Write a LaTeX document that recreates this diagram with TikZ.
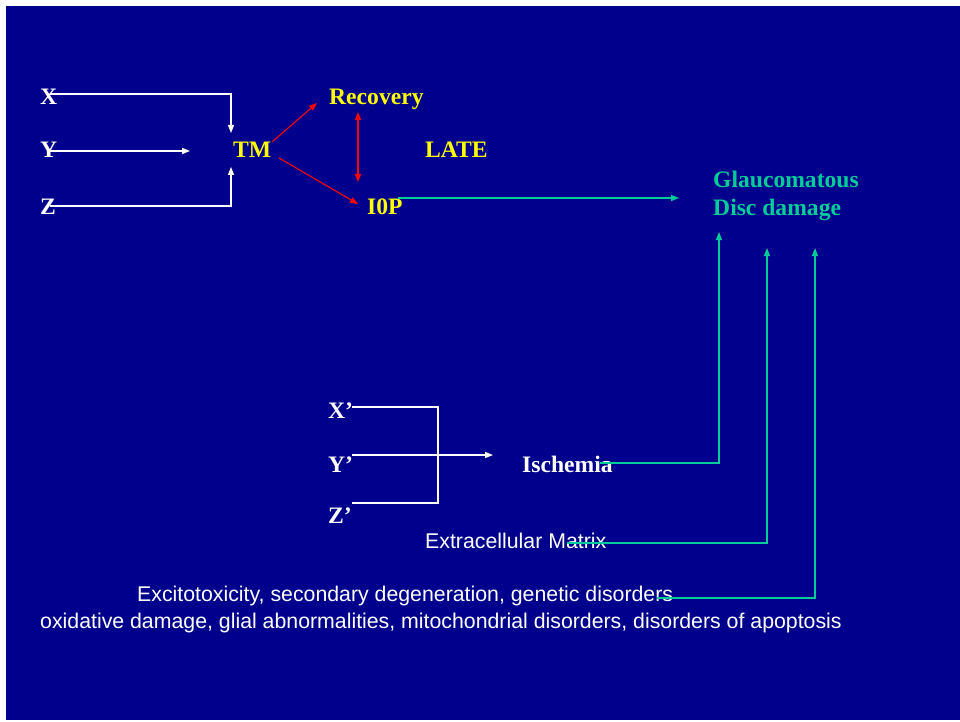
\documentclass[tikz,border=0pt]{standalone}
\usepackage{fontspec}
\setmainfont{Liberation Serif}
\newfontfamily\arialf{Liberation Sans}
\usetikzlibrary{arrows.meta}
\definecolor{bg}{RGB}{0,0,140}
\definecolor{tealc}{RGB}{0,204,153}
\definecolor{yel}{RGB}{255,255,0}
\begin{document}
\begin{tikzpicture}[x=1pt,y=-1pt,
  lbl/.style={inner sep=0pt, anchor=base west, font=\fontsize{23.6}{24}\selectfont\bfseries},
  sans/.style={inner sep=0pt, anchor=base west, font=\arialf\fontsize{21.3}{21.3}\selectfont, text=white},
  wl/.style={draw=white, line width=1.1pt},
  rl/.style={draw=red, line width=1.1pt},
  tl/.style={draw=tealc, line width=1.2pt},
  tip/.style={-{Triangle[length=8pt,width=6pt]}},
  tips/.style={{Triangle[length=8pt,width=6pt]}-{Triangle[length=8pt,width=6pt]}}]
\useasboundingbox (0,0) rectangle (960,722);
\fill[white] (0,0) rectangle (960,722);
\fill[bg] (6,6) rectangle (960,720);
% text nodes
\node[lbl, text=white] (X) at (40,105) {X};
\node[lbl, text=white] (Y) at (40,158) {Y};
\node[lbl, text=white] (Z) at (40,214) {Z};
\node[lbl, text=yel] (TM) at (233,158) {TM};
\node[lbl, text=yel] (rec) at (329,105) {Recovery};
\node[lbl, text=yel] (late) at (425,158) {LATE};
\node[lbl, text=yel] (iop) at (367,214) {I0P};
\node[lbl, text=tealc] (gl1) at (713,187) {Glaucomatous};
\node[lbl, text=tealc] (gl2) at (713,215) {Disc damage};
\node[lbl, text=white] (Xp) at (328,418) {X’};
\node[lbl, text=white] (Yp) at (328,472) {Y’};
\node[lbl, text=white] (Zp) at (328,523) {Z’};
\node[lbl, text=white] (isch) at (522,472) {Ischemia};
\node[sans] (ecm) at (425,548) {Extracellular Matrix};
\node[sans] (exc) at (137,601) {Excitotoxicity, secondary degeneration, genetic disorders};
\node[sans] (oxi) at (40,628) {oxidative damage, glial abnormalities, mitochondrial disorders, disorders of apoptosis};
% coordinates
\coordinate (xs) at (50,94);
\coordinate (xb) at (231,94);
\coordinate (xt) at (231,133);
\coordinate (ys) at (50,151);
\coordinate (yt) at (190,151);
\coordinate (zs) at (50,206);
\coordinate (zb) at (231,206);
\coordinate (zt) at (231,167);
\coordinate (r1s) at (272,142);
\coordinate (r1t) at (317,103);
\coordinate (r2s) at (279,158);
\coordinate (r2t) at (358,204);
\coordinate (d1) at (358,112);
\coordinate (d2) at (358,182);
\coordinate (is) at (398,198);
\coordinate (it) at (679,198);
\coordinate (bx1) at (352,407);
\coordinate (bx2) at (438,407);
\coordinate (bz2) at (438,503);
\coordinate (bz1) at (352,503);
\coordinate (bys) at (352,455);
\coordinate (byt) at (493,455);
\coordinate (a1s) at (600,463);
\coordinate (a1b) at (719,463);
\coordinate (a1t) at (719,232);
\coordinate (a2s) at (567,543);
\coordinate (a2b) at (767,543);
\coordinate (a2t) at (767,248);
\coordinate (a3s) at (657,598);
\coordinate (a3b) at (815,598);
\coordinate (a3t) at (815,248);
% connectors
\draw[wl, tip] (xs) -- (xb) -- (xt);
\draw[wl, tip] (ys) -- (yt);
\draw[wl, tip] (zs) -- (zb) -- (zt);
\draw[rl, tip] (r1s) -- (r1t);
\draw[rl, tip] (r2s) -- (r2t);
\draw[rl, tips] (d1) -- (d2);
\draw[tl, tip] (is) -- (it);
\draw[wl] (bx1) -- (bx2) -- (bz2) -- (bz1);
\draw[wl, tip] (bys) -- (byt);
\draw[tl, tip] (a1s) -- (a1b) -- (a1t);
\draw[tl, tip] (a2s) -- (a2b) -- (a2t);
\draw[tl, tip] (a3s) -- (a3b) -- (a3t);
\end{tikzpicture}
\end{document}
